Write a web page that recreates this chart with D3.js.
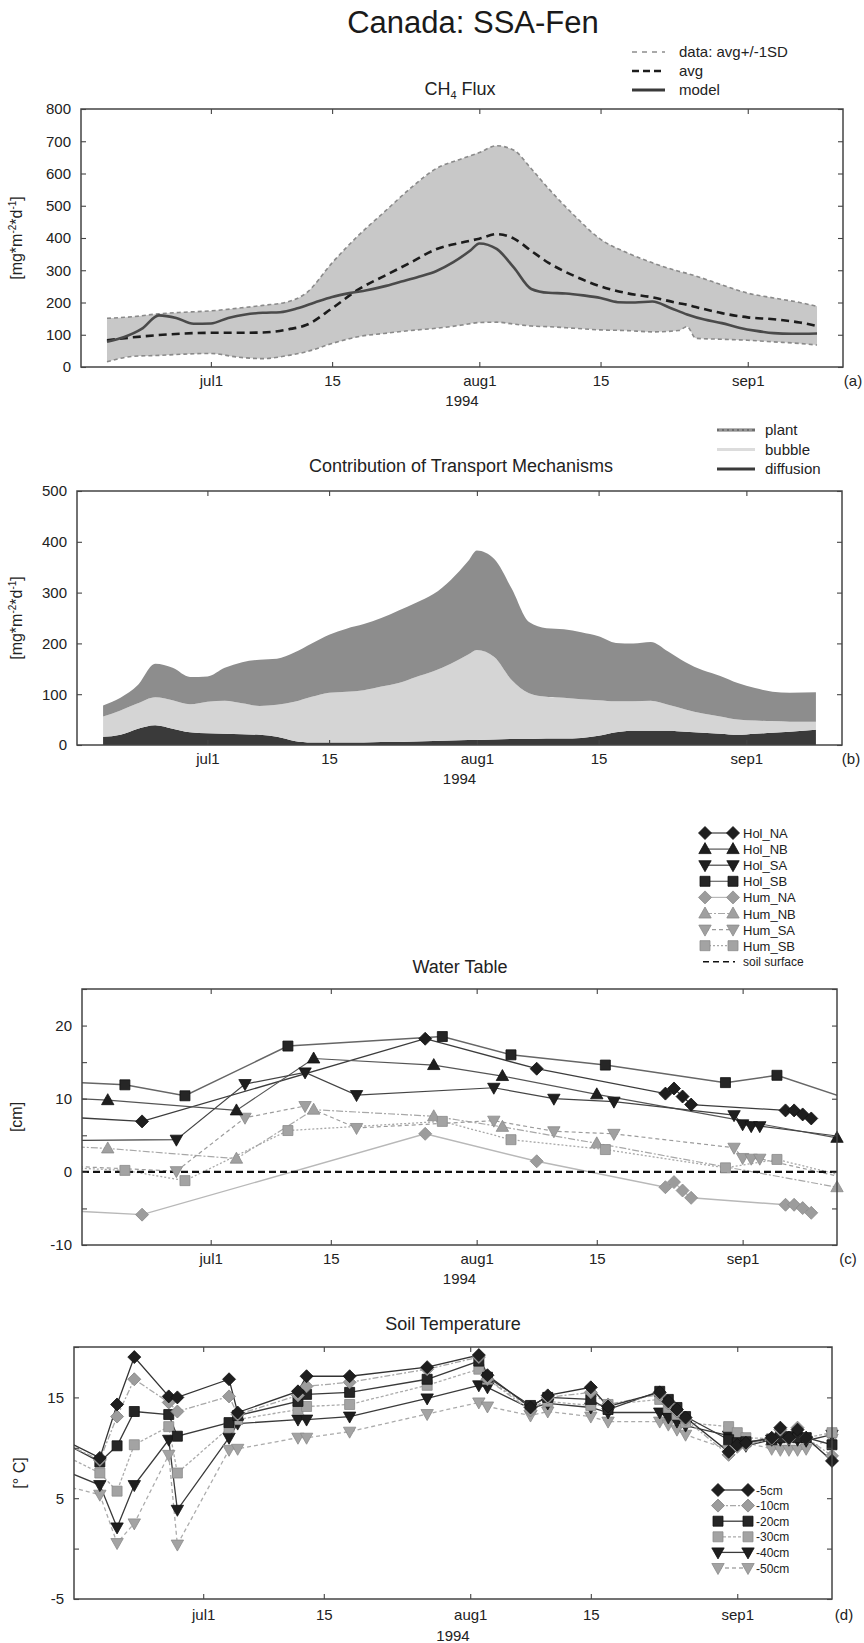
<!DOCTYPE html>
<html>
<head>
<meta charset="utf-8">
<script src="https://cdn.jsdelivr.net/npm/d3@7"></script>
<style>
  body { margin: 0; background: #fff; }
  svg { display: block; font-family: "Liberation Sans", Arial, Helvetica, sans-serif; }
</style>
</head>
<body>
<svg id="fig" width="864" height="1643"></svg>
<script>
// ---------------------------------------------------------------
// Shared time axis
// ---------------------------------------------------------------
const timeWindow = ["1994-06-16", "1994-09-12"];
const xTickDates = ["1994-07-01", "1994-07-15", "1994-08-01", "1994-08-15", "1994-09-01"];
const xTickLabels = ["jul1", "15", "aug1", "15", "sep1"];
const yearLabel = "1994";

// ---------------------------------------------------------------
// (a) CH4 flux: measured average, +/- 1 SD envelope  [mg m-2 d-1]
// ---------------------------------------------------------------
const fluxDates = ["1994-06-19","1994-06-22","1994-06-25","1994-06-28","1994-07-01","1994-07-04","1994-07-07","1994-07-10",
  "1994-07-12","1994-07-15","1994-07-18","1994-07-21","1994-07-24","1994-07-27","1994-07-30","1994-08-01",
  "1994-08-03","1994-08-05","1994-08-07","1994-08-09","1994-08-12","1994-08-15","1994-08-18","1994-08-21",
  "1994-08-24","1994-08-25","1994-08-26","1994-08-29","1994-09-01","1994-09-04","1994-09-07","1994-09-09"];
const fluxUpper = [151,156,165,170,174,182,191,203, 229,323,407,480,553,615,646,665,
  686,672,615,553,469,396,355,323, 297,290,282,255,229,214,200,188];
const fluxAvg = [83,92,99,104,106,106,107,117, 130,182,240,282,323,365,386,398,
  412,398,360,323,282,250,229,216, 198,193,186,167,154,148,138,127];
const fluxLower = [16,33,36,40,42,31,26,36, 47,73,94,104,113,120,130,138,
  139,133,127,125,120,115,113,109, 113,125,89,86,83,78,73,68];
const fluxTicks = [0,100,200,300,400,500,600,700,800];

// ---------------------------------------------------------------
// (b) modelled emission by transport pathway  [mg m-2 d-1]
// ---------------------------------------------------------------
const transportDates = ["1994-06-19","1994-06-21","1994-06-23","1994-06-25","1994-06-27","1994-06-29",
  "1994-07-01","1994-07-03","1994-07-05","1994-07-07","1994-07-09","1994-07-11","1994-07-13","1994-07-15",
  "1994-07-17","1994-07-19","1994-07-21","1994-07-23","1994-07-25","1994-07-27","1994-07-29","1994-07-31",
  "1994-08-01","1994-08-03","1994-08-05","1994-08-07","1994-08-09","1994-08-11","1994-08-13","1994-08-15",
  "1994-08-17","1994-08-19","1994-08-21","1994-08-23","1994-08-25","1994-08-27","1994-08-29","1994-08-31",
  "1994-09-02","1994-09-04","1994-09-06","1994-09-09"];
const diffusionFlux = [16,20,32,39,32,25, 23,22,21,20,16,8,5,5,5,5,6,6,7,8,9,10,
  10,11,12,12,13,13,14,18,25,28,28,28,26,24,22,20, 22,24,26,30];
const bubbleFlux = [40,48,50,55,56,55, 62,65,61,57,63,77,90,98,100,103,109,116,127,137,151,168,
  177,162,116,90,82,80,76,70,61,58,59,51,44,38,34,30, 26,23,20,16];
const plantFlux = [22,25,36,66,64,54, 50,65,81,91,91,97,105,114,124,130,135,143,146,152,165,184,
  196,193,180,140,135,135,132,126,115,114,116,105,93,85,80,72, 64,58,57,58];
const transportTicks = [0,100,200,300,400,500];

// ---------------------------------------------------------------
// (c) water table  [cm], hollows (Hol) and hummocks (Hum)
// ---------------------------------------------------------------
const holNA = [["1994-06-14",7.5],["1994-06-23",6.9],["1994-07-26",18.2],["1994-08-08",14.1],["1994-08-23",10.7],
  ["1994-08-24",11.4],["1994-08-25",10.3],["1994-08-26",9.2],["1994-09-06",8.4],["1994-09-07",8.4],["1994-09-08",7.85],["1994-09-09",7.3]];
const holNB = [["1994-06-14",10.1],["1994-06-19",9.8],["1994-07-04",8.4],["1994-07-13",15.5],["1994-07-27",14.6],
  ["1994-08-04",13.1],["1994-08-15",10.6],["1994-09-12",4.65]];
const holSA = [["1994-06-14",4.3],["1994-06-27",4.4],["1994-07-05",12.0],["1994-07-12",13.6],["1994-07-18",10.5],
  ["1994-08-03",11.5],["1994-08-10",10.0],["1994-08-17",9.6],["1994-08-31",7.75],["1994-09-01",6.5],["1994-09-02",6.25],
  ["1994-09-03",6.25],["1994-09-14",4.6]];
const holSB = [["1994-06-14",12.3],["1994-06-21",11.9],["1994-06-28",10.4],["1994-07-10",17.2],["1994-07-28",18.5],
  ["1994-08-05",16.0],["1994-08-16",14.6],["1994-08-30",12.2],["1994-09-05",13.2],["1994-09-14",9.7]];
const humNA = [["1994-06-14",-5.3],["1994-06-23",-5.85],["1994-07-26",5.2],["1994-08-08",1.45],["1994-08-23",-2.1],
  ["1994-08-24",-1.4],["1994-08-25",-2.55],["1994-08-26",-3.55],["1994-09-06",-4.5],["1994-09-07",-4.5],["1994-09-08",-4.95],["1994-09-09",-5.6]];
const humNB = [["1994-06-14",3.5],["1994-06-19",3.2],["1994-07-04",1.8],["1994-07-13",8.5],["1994-07-27",7.6],
  ["1994-08-04",6.15],["1994-08-15",3.9],["1994-09-12",-2.1]];
const humSA = [["1994-06-14",0.8],["1994-06-27",0.1],["1994-07-05",7.4],["1994-07-12",9.0],["1994-07-18",6.0],
  ["1994-08-03",7.0],["1994-08-10",5.55],["1994-08-17",5.2],["1994-08-31",3.3],["1994-09-01",1.9],["1994-09-02",1.8],
  ["1994-09-03",1.8],["1994-09-14",-1.1]];
const humSB = [["1994-06-14",0.6],["1994-06-21",0.2],["1994-06-28",-1.2],["1994-07-10",5.65],["1994-07-28",6.9],
  ["1994-08-05",4.4],["1994-08-16",3.05],["1994-08-30",0.55],["1994-09-05",1.7],["1994-09-14",-0.9]];
const soilSurface = 0;
const waterTicks = [-10,-5,0,5,10,15,20,25];
const waterLabeled = [-10,0,10,20];

// ---------------------------------------------------------------
// (d) soil temperature by depth  [deg C]
// ---------------------------------------------------------------
const soilDates = ["1994-06-15","1994-06-19","1994-06-21","1994-06-23","1994-06-27","1994-06-28","1994-07-04","1994-07-05",
  "1994-07-12","1994-07-13","1994-07-18","1994-07-27","1994-08-02","1994-08-03","1994-08-08","1994-08-10","1994-08-15",
  "1994-08-17","1994-08-23","1994-08-24","1994-08-25","1994-08-26","1994-08-31","1994-09-01","1994-09-02","1994-09-05",
  "1994-09-06","1994-09-07","1994-09-08","1994-09-09","1994-09-12"];
const soil5  = [10.7,9.0,14.3,19.0,15.1,15.0,16.8,13.5,15.6,17.1,17.1,18.0,19.2,17.2,14.0,15.2,16.0,14.1,15.5,14.6,13.8,13.0,9.6,10.3,10.5,11.0,12.0,11.0,11.8,11.0,8.7];
const soil10 = [10.4,8.8,13.1,16.8,14.5,13.6,15.1,13.3,15.2,16.1,16.5,17.8,19.0,16.8,13.7,15.0,15.5,14.3,15.3,14.4,13.6,12.8,9.3,10.1,10.3,10.9,11.8,10.9,12.0,11.0,9.2];
const soil20 = [10.4,8.6,10.2,13.6,13.3,11.15,12.5,13.2,14.6,15.3,15.5,16.8,18.6,17.0,14.2,15.0,14.8,13.8,15.6,14.8,14.0,13.1,10.8,10.5,10.6,10.8,11.0,11.1,11.0,11.0,10.3];
const soil30 = [9.2,7.5,5.7,10.3,12.1,7.5,12.0,12.8,13.8,14.1,14.3,16.2,17.8,16.8,14.0,14.6,14.2,14.3,14.8,14.0,13.3,12.5,12.1,11.5,11.0,10.9,11.1,11.1,11.2,11.0,11.5];
const soil40 = [7.7,6.3,2.1,6.3,10.8,3.85,11.0,12.4,12.8,12.8,13.1,14.9,16.2,16.0,13.9,14.4,14.0,13.5,13.5,13.0,12.6,12.2,11.2,11.0,10.2,10.8,10.8,10.8,10.8,10.7,11.3];
const soil50 = [6.2,5.35,0.55,2.5,9.3,0.4,9.8,9.9,11.0,11.0,11.6,13.35,14.5,14.1,13.2,13.6,13.1,12.6,12.6,12.3,11.8,11.3,9.8,10.9,10.5,9.9,9.8,9.8,9.8,9.9,10.9];
const soilTicks = [-5,0,5,10,15,20];
const soilLabeled = [-5,5,15];

// ---------------------------------------------------------------
// drawing helpers
// ---------------------------------------------------------------
const parseDate = d3.timeParse("%Y-%m-%d");
const svg = d3.select("#fig");
const defs = svg.append("defs");
const windowStart = parseDate(timeWindow[0]);
const windowEnd = parseDate(timeWindow[1]);
const inWindow = d => d.date >= windowStart && d.date <= windowEnd;

function markerPath(shape) {
  const p = d3.path();
  if (shape === "diamond") { p.moveTo(0,-6.5); p.lineTo(6.5,0); p.lineTo(0,6.5); p.lineTo(-6.5,0); }
  else if (shape === "square") { p.rect(-5,-5,10,10); return p.toString(); }
  else if (shape === "up") { p.moveTo(0,-6.5); p.lineTo(6.2,4.5); p.lineTo(-6.2,4.5); }
  else { p.moveTo(0,6.5); p.lineTo(6.2,-4.5); p.lineTo(-6.2,-4.5); }
  p.closePath();
  return p.toString();
}

function buildPanel(p) {
  const x = d3.scaleTime().domain([windowStart, windowEnd]).range([p.left, p.right]);
  const y = d3.scaleLinear().domain(p.yDomain).range([p.bottom, p.top]);
  const clipId = "clip-" + p.id;
  defs.append("clipPath").attr("id", clipId).append("rect")
    .attr("x", p.left).attr("y", p.top).attr("width", p.right - p.left).attr("height", p.bottom - p.top);
  const layer = svg.append("g").attr("class", "panel-" + p.id);
  const plot = layer.append("g").attr("clip-path", `url(#${clipId})`);
  return { x, y, layer, plot, p };
}

function styleAxis(g) {
  g.select(".domain").remove();
  g.attr("font-family", null).attr("font-size", 15);
  g.selectAll(".tick line").attr("stroke", "#444").attr("stroke-width", 1.1);
  g.selectAll("text").attr("fill", "#222");
}

function finishPanel(P) {
  const { x, y, layer, p } = P;
  const ticks = xTickDates.map(parseDate);
  layer.append("g").attr("transform", `translate(0,${p.bottom})`)
    .call(d3.axisBottom(x).tickValues(ticks).tickFormat((d, i) => xTickLabels[i])
      .tickSizeInner(-5).tickSizeOuter(0).tickPadding(p.xPad))
    .call(styleAxis);
  layer.append("g").attr("transform", `translate(0,${p.top})`)
    .call(d3.axisTop(x).tickValues(ticks).tickFormat("").tickSizeInner(-5).tickSizeOuter(0))
    .call(styleAxis);
  layer.append("g").attr("transform", `translate(${p.left},0)`)
    .call(d3.axisLeft(y).tickValues(p.yTicks).tickFormat(d => p.yLabeled.includes(d) ? d : "")
      .tickSizeInner(-5).tickSizeOuter(0).tickPadding(10))
    .call(styleAxis);
  layer.append("g").attr("transform", `translate(${p.right},0)`)
    .call(d3.axisRight(y).tickValues(p.yTicks).tickFormat("").tickSizeInner(-5).tickSizeOuter(0))
    .call(styleAxis);
  layer.append("rect")
    .attr("x", p.left).attr("y", p.top).attr("width", p.right - p.left).attr("height", p.bottom - p.top)
    .attr("fill", "none").attr("stroke", "#444").attr("stroke-width", 1.5);
  layer.append("text").attr("x", (p.left + p.right) / 2).attr("y", p.bottom + p.yearDy)
    .attr("text-anchor", "middle").attr("font-size", 15).attr("fill", "#222").text(yearLabel);
  layer.append("text").attr("x", p.tagX).attr("y", p.bottom + p.xPad + 11)
    .attr("text-anchor", "middle").attr("font-size", 15).attr("fill", "#222").text(p.tag);
}

function panelTitle(P, cx, baseline, text) {
  return P.layer.append("text").attr("x", cx).attr("y", baseline).attr("text-anchor", "middle")
    .attr("font-size", 18).attr("fill", "#222").text(text);
}

function fluxUnitLabel(P, cx) {
  const cy = (P.p.top + P.p.bottom) / 2;
  const t = P.layer.append("text").attr("transform", `translate(${cx},${cy}) rotate(-90)`)
    .attr("text-anchor", "middle").attr("font-size", 16).attr("fill", "#222");
  t.append("tspan").text("[mg*m");
  t.append("tspan").attr("dy", -6).attr("font-size", 10).text("-2");
  t.append("tspan").attr("dy", 6).text("*d");
  t.append("tspan").attr("dy", -6).attr("font-size", 10).text("-1");
  t.append("tspan").attr("dy", 6).text("]");
}

function simpleUnitLabel(P, cx, text) {
  const cy = (P.p.top + P.p.bottom) / 2;
  P.layer.append("text").attr("transform", `translate(${cx},${cy}) rotate(-90)`)
    .attr("text-anchor", "middle").attr("font-size", 16).attr("fill", "#222").text(text);
}

// ---------------------------------------------------------------
// Figure title
// ---------------------------------------------------------------
svg.append("text").attr("x", 473).attr("y", 33).attr("text-anchor", "middle")
  .attr("font-size", 31).attr("fill", "#1a1a1a").text("Canada: SSA-Fen");

// ---------------------------------------------------------------
// (a) CH4 flux
// ---------------------------------------------------------------
const A = buildPanel({ id: "a", left: 81, right: 843, top: 109, bottom: 367, yDomain: [0, 800],
  yTicks: fluxTicks, yLabeled: fluxTicks, xPad: 8, yearDy: 39, tag: "(a)", tagX: 853 });

const fluxRows = fluxDates.map((d, i) => ({ date: parseDate(d), upper: fluxUpper[i], avg: fluxAvg[i], lower: fluxLower[i] }));
const transportRows = transportDates.map((d, i) => ({ date: parseDate(d), diffusion: diffusionFlux[i], bubble: bubbleFlux[i], plant: plantFlux[i] }));

A.plot.append("path").datum(fluxRows)
  .attr("d", d3.area().x(d => A.x(d.date)).y0(d => A.y(d.lower)).y1(d => A.y(d.upper)).curve(d3.curveMonotoneX))
  .attr("fill", "#c8c8c8");
["upper", "lower"].forEach(k => {
  A.plot.append("path").datum(fluxRows)
    .attr("d", d3.line().x(d => A.x(d.date)).y(d => A.y(d[k])).curve(d3.curveMonotoneX))
    .attr("fill", "none").attr("stroke", "#8a8a8a").attr("stroke-width", 1.6).attr("stroke-dasharray", "4,3");
});
A.plot.append("path").datum(fluxRows)
  .attr("d", d3.line().x(d => A.x(d.date)).y(d => A.y(d.avg)).curve(d3.curveMonotoneX))
  .attr("fill", "none").attr("stroke", "#1c1c1c").attr("stroke-width", 2.6).attr("stroke-dasharray", "8,5");
A.plot.append("path").datum(transportRows)
  .attr("d", d3.line().x(d => A.x(d.date)).y(d => A.y(d.diffusion + d.bubble + d.plant)).curve(d3.curveMonotoneX))
  .attr("fill", "none").attr("stroke", "#4a4a4a").attr("stroke-width", 2.6);
finishPanel(A);
fluxUnitLabel(A, 22);
{
  const t = A.layer.append("text").attr("x", 460).attr("y", 95).attr("text-anchor", "middle")
    .attr("font-size", 18).attr("fill", "#222");
  t.append("tspan").text("CH");
  t.append("tspan").attr("dy", 4).attr("font-size", 11).text("4");
  t.append("tspan").attr("dy", -4).text(" Flux");
}
// legend (a)
const legendA = [
  { label: "data: avg+/-1SD", stroke: "#555", width: 1.2, dash: "5,5" },
  { label: "avg", stroke: "#1c1c1c", width: 2.6, dash: "7,4" },
  { label: "model", stroke: "#3a3a3a", width: 2.8, dash: null }
];
legendA.forEach((e, i) => {
  const yy = 52 + i * 19;
  A.layer.append("line").attr("x1", 632).attr("x2", 665).attr("y1", yy).attr("y2", yy)
    .attr("stroke", e.stroke).attr("stroke-width", e.width).attr("stroke-dasharray", e.dash);
  A.layer.append("text").attr("x", 679).attr("y", yy + 5).attr("font-size", 15).attr("fill", "#222").text(e.label);
});

// ---------------------------------------------------------------
// (b) transport pathways (stacked)
// ---------------------------------------------------------------
const B = buildPanel({ id: "b", left: 77, right: 842, top: 491, bottom: 745, yDomain: [0, 500],
  yTicks: transportTicks, yLabeled: transportTicks, xPad: 8, yearDy: 39, tag: "(b)", tagX: 851 });
const pathwayKeys = ["diffusion", "bubble", "plant"];
const pathwayFill = { diffusion: "#3a3a3a", bubble: "#d5d5d5", plant: "#8d8d8d" };
const stacked = d3.stack().keys(pathwayKeys)(transportRows);
B.plot.selectAll("path.layer").data(stacked).join("path").attr("class", "layer")
  .attr("d", d3.area().x(d => B.x(d.data.date)).y0(d => B.y(d[0])).y1(d => B.y(d[1])).curve(d3.curveMonotoneX))
  .attr("fill", d => pathwayFill[d.key]);
finishPanel(B);
fluxUnitLabel(B, 22);
panelTitle(B, 461, 472, "Contribution of Transport Mechanisms");
const legendB = [
  { label: "plant", stroke: "#6e6e6e", dash: null, over: "#b5b5b5" },
  { label: "bubble", stroke: "#dcdcdc", dash: null },
  { label: "diffusion", stroke: "#3a3a3a", dash: null }
];
legendB.forEach((e, i) => {
  const yy = 430 + i * 19.5;
  B.layer.append("line").attr("x1", 717).attr("x2", 755).attr("y1", yy).attr("y2", yy)
    .attr("stroke", e.stroke).attr("stroke-width", 3);
  if (e.over) B.layer.append("line").attr("x1", 719).attr("x2", 753).attr("y1", yy).attr("y2", yy)
    .attr("stroke", e.over).attr("stroke-width", 1).attr("stroke-dasharray", "3,2");
  B.layer.append("text").attr("x", 765).attr("y", yy + 5).attr("font-size", 15).attr("fill", "#222").text(e.label);
});

// ---------------------------------------------------------------
// (c) water table
// ---------------------------------------------------------------
const C = buildPanel({ id: "c", left: 82, right: 837, top: 989, bottom: 1245, yDomain: [-10, 25],
  yTicks: waterTicks, yLabeled: waterLabeled, xPad: 8, yearDy: 39, tag: "(c)", tagX: 848 });
const waterSeries = [
  { name: "Hum_NA", data: humNA, shape: "diamond", fill: "#9c9c9c", mstroke: "#8a8a8a", line: "#b8b8b8", dash: null, lw: 1.4 },
  { name: "Hum_NB", data: humNB, shape: "up", fill: "#a0a0a0", mstroke: "#8a8a8a", line: "#a8a8a8", dash: "7,2,2,2", lw: 1.2 },
  { name: "Hum_SA", data: humSA, shape: "down", fill: "#a0a0a0", mstroke: "#8a8a8a", line: "#9c9c9c", dash: "4,3", lw: 1.2 },
  { name: "Hum_SB", data: humSB, shape: "square", fill: "#a3a3a3", mstroke: "#8a8a8a", line: "#a8a8a8", dash: "2,2", lw: 1.3 },
  { name: "Hol_NA", data: holNA, shape: "diamond", fill: "#1e1e1e", mstroke: "#111", line: "#3c3c3c", dash: null, lw: 1.3 },
  { name: "Hol_NB", data: holNB, shape: "up", fill: "#1e1e1e", mstroke: "#111", line: "#555", dash: null, lw: 1.2 },
  { name: "Hol_SA", data: holSA, shape: "down", fill: "#1e1e1e", mstroke: "#111", line: "#444", dash: null, lw: 1.2 },
  { name: "Hol_SB", data: holSB, shape: "square", fill: "#262626", mstroke: "#111", line: "#666", dash: null, lw: 1.5 }
];
const waterLine = d3.line().x(d => C.x(d.date)).y(d => C.y(d.v));
waterSeries.forEach(s => {
  s.points = s.data.map(([d, v]) => ({ date: parseDate(d), v }));
  C.plot.append("path").datum(s.points).attr("d", waterLine)
    .attr("fill", "none").attr("stroke", s.line).attr("stroke-width", s.lw).attr("stroke-dasharray", s.dash);
});
C.plot.append("line").attr("x1", C.p.left).attr("x2", C.p.right)
  .attr("y1", C.y(soilSurface)).attr("y2", C.y(soilSurface))
  .attr("stroke", "#111").attr("stroke-width", 2.2).attr("stroke-dasharray", "7,4");
waterSeries.forEach(s => {
  C.layer.append("g").selectAll("path").data(s.points.filter(inWindow)).join("path")
    .attr("d", markerPath(s.shape))
    .attr("transform", d => `translate(${C.x(d.date)},${C.y(d.v)})`)
    .attr("fill", s.fill).attr("stroke", s.mstroke).attr("stroke-width", 0.8);
});
finishPanel(C);
simpleUnitLabel(C, 22, "[cm]");
panelTitle(C, 460, 973, "Water Table");
// legend (c): hollows first, then hummocks
const legendOrder = ["Hol_NA", "Hol_NB", "Hol_SA", "Hol_SB", "Hum_NA", "Hum_NB", "Hum_SA", "Hum_SB"];
legendOrder.forEach((name, i) => {
  const s = waterSeries.find(w => w.name === name);
  const yy = 833 + i * 16.1;
  C.layer.append("line").attr("x1", 705).attr("x2", 733).attr("y1", yy).attr("y2", yy)
    .attr("stroke", s.line).attr("stroke-width", 1.2).attr("stroke-dasharray", s.dash);
  [705, 733].forEach(mx => C.layer.append("path").attr("d", markerPath(s.shape))
    .attr("transform", `translate(${mx},${yy})`).attr("fill", s.fill).attr("stroke", s.mstroke).attr("stroke-width", 0.8));
  C.layer.append("text").attr("x", 743).attr("y", yy + 5).attr("font-size", 13).attr("fill", "#222").text(name);
});
{
  const yy = 833 + 8 * 16.1;
  C.layer.append("line").attr("x1", 703).attr("x2", 735).attr("y1", yy).attr("y2", yy)
    .attr("stroke", "#111").attr("stroke-width", 1.6).attr("stroke-dasharray", "6,4");
  C.layer.append("text").attr("x", 743).attr("y", yy + 4).attr("font-size", 12).attr("fill", "#222").text("soil surface");
}

// ---------------------------------------------------------------
// (d) soil temperature
// ---------------------------------------------------------------
const D = buildPanel({ id: "d", left: 74, right: 832, top: 1347, bottom: 1599, yDomain: [-5, 20],
  yTicks: soilTicks, yLabeled: soilLabeled, xPad: 10, yearDy: 42, tag: "(d)", tagX: 844 });
const soilSeries = [
  { name: "-50cm", values: soil50, shape: "down", fill: "#a3a3a3", mstroke: "#8a8a8a", line: "#ababab", dash: "4,3" },
  { name: "-40cm", values: soil40, shape: "down", fill: "#1e1e1e", mstroke: "#111", line: "#3a3a3a", dash: null },
  { name: "-30cm", values: soil30, shape: "square", fill: "#a3a3a3", mstroke: "#8a8a8a", line: "#ababab", dash: "3,2" },
  { name: "-20cm", values: soil20, shape: "square", fill: "#262626", mstroke: "#111", line: "#3a3a3a", dash: null },
  { name: "-10cm", values: soil10, shape: "diamond", fill: "#9c9c9c", mstroke: "#808080", line: "#a8a8a8", dash: "6,2,2,2" },
  { name: "-5cm", values: soil5, shape: "diamond", fill: "#1e1e1e", mstroke: "#111", line: "#333", dash: null }
];
const soilLine = d3.line().x(d => D.x(d.date)).y(d => D.y(d.v));
soilSeries.forEach(s => {
  s.points = soilDates.map((d, i) => ({ date: parseDate(d), v: s.values[i] }));
  D.plot.append("path").datum(s.points).attr("d", soilLine)
    .attr("fill", "none").attr("stroke", s.line).attr("stroke-width", 1.3).attr("stroke-dasharray", s.dash);
});
soilSeries.forEach(s => {
  D.layer.append("g").selectAll("path").data(s.points.filter(inWindow)).join("path")
    .attr("d", markerPath(s.shape))
    .attr("transform", d => `translate(${D.x(d.date)},${D.y(d.v)})`)
    .attr("fill", s.fill).attr("stroke", s.mstroke).attr("stroke-width", 0.8);
});
finishPanel(D);
simpleUnitLabel(D, 25, "[° C]");
panelTitle(D, 453, 1330, "Soil Temperature");
["-5cm", "-10cm", "-20cm", "-30cm", "-40cm", "-50cm"].forEach((name, i) => {
  const s = soilSeries.find(w => w.name === name);
  const yy = 1490 + i * 15.6;
  D.layer.append("line").attr("x1", 718).attr("x2", 748).attr("y1", yy).attr("y2", yy)
    .attr("stroke", s.line).attr("stroke-width", 1.3).attr("stroke-dasharray", s.dash);
  [718, 748].forEach(mx => D.layer.append("path").attr("d", markerPath(s.shape))
    .attr("transform", `translate(${mx},${yy})`).attr("fill", s.fill).attr("stroke", s.mstroke).attr("stroke-width", 0.8));
  D.layer.append("text").attr("x", 756).attr("y", yy + 4.5).attr("font-size", 12).attr("fill", "#222").text(name);
});
</script>
</body>
</html>
